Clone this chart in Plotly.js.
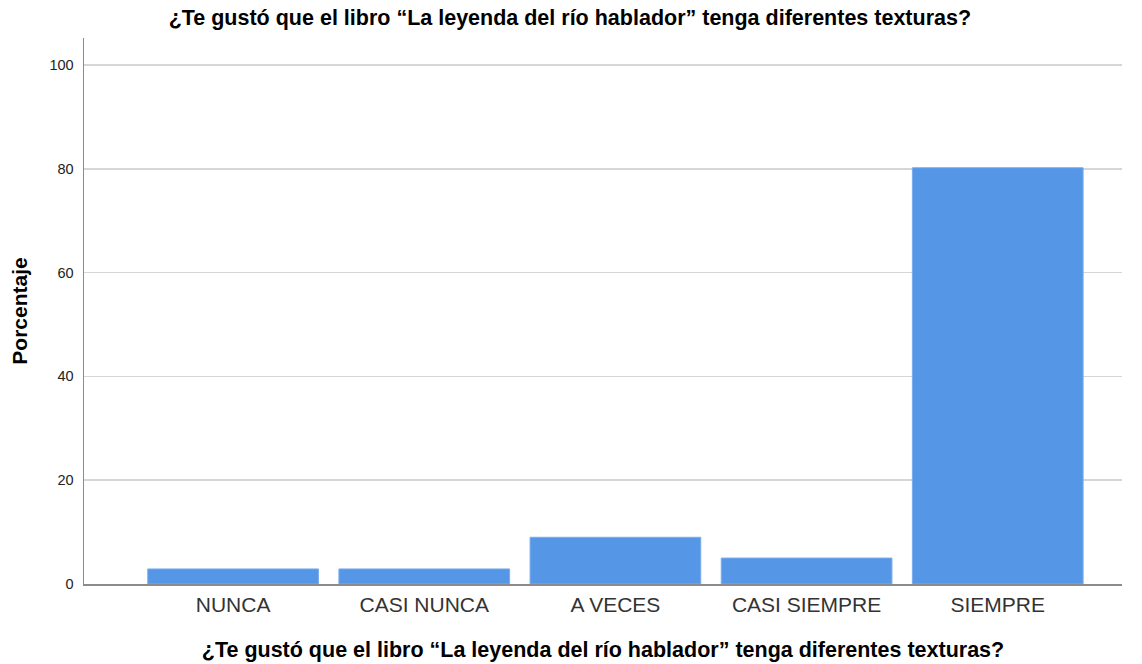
<!DOCTYPE html>
<html>
<head>
<meta charset="utf-8">
<script src="https://cdn.plot.ly/plotly-3.0.1.min.js"></script>
<style>
  html, body { margin: 0; padding: 0; background: #fff; }
  #chart { width: 1142px; height: 664px; }
</style>
</head>
<body>
<div id="chart"></div>
<script>
const categories = ["NUNCA", "CASI NUNCA", "A VECES", "CASI SIEMPRE", "SIEMPRE"];
const percentages = [2.9, 2.9, 9.0, 5.0, 80.2];
const yTickValues = [0, 20, 40, 60, 80, 100];
const titleText = "¿Te gustó que el libro “La leyenda del río hablador” tenga diferentes texturas?";
const yTitleText = "Porcentaje";

const trace = {
  type: "bar",
  x: categories,
  y: percentages,
  marker: { color: "#5596E6", line: { color: "#79adee", width: 1 } },
  hoverinfo: "x+y"
};

const layout = {
  width: 1142,
  height: 664,
  paper_bgcolor: "#ffffff",
  plot_bgcolor: "#ffffff",
  margin: { l: 84, r: 20, t: 38, b: 80 },
  bargap: 0.107,
  showlegend: false,
  font: { family: "Liberation Sans, Arial, sans-serif", color: "#000" },
  title: {
    text: "<b>" + titleText + "</b>",
    font: { size: 21.5, family: "Liberation Sans, Arial, sans-serif", color: "#000" },
    x: 0.499, xanchor: "center",
    y: 0.973, yanchor: "middle", yref: "container"
  },
  xaxis: {
    type: "category",
    range: [-0.78, 4.65],
    showline: true,
    linecolor: "#8c8c8c",
    linewidth: 1.5,
    showgrid: false,
    zeroline: false,
    ticks: "",
    ticklabelstandoff: 1,
    tickfont: { size: 21, color: "#333" },
    title: {
      text: "<b>" + titleText + "</b>",
      font: { size: 21.5, color: "#000" },
      standoff: 27
    }
  },
  yaxis: {
    range: [0, 105.2],
    tickvals: yTickValues,
    showline: true,
    linecolor: "#8c8c8c",
    linewidth: 1.5,
    showgrid: true,
    gridcolor: "#d6d6d6",
    gridwidth: 1.5,
    zeroline: false,
    ticks: "",
    ticklabelstandoff: 6,
    tickfont: { size: 14.5, color: "#222" },
    title: {
      text: "<b>" + yTitleText + "</b>",
      font: { size: 21, color: "#000" },
      standoff: 16
    }
  }
};

Plotly.newPlot("chart", [trace], layout, { displayModeBar: false, staticPlot: true });
</script>
</body>
</html>
